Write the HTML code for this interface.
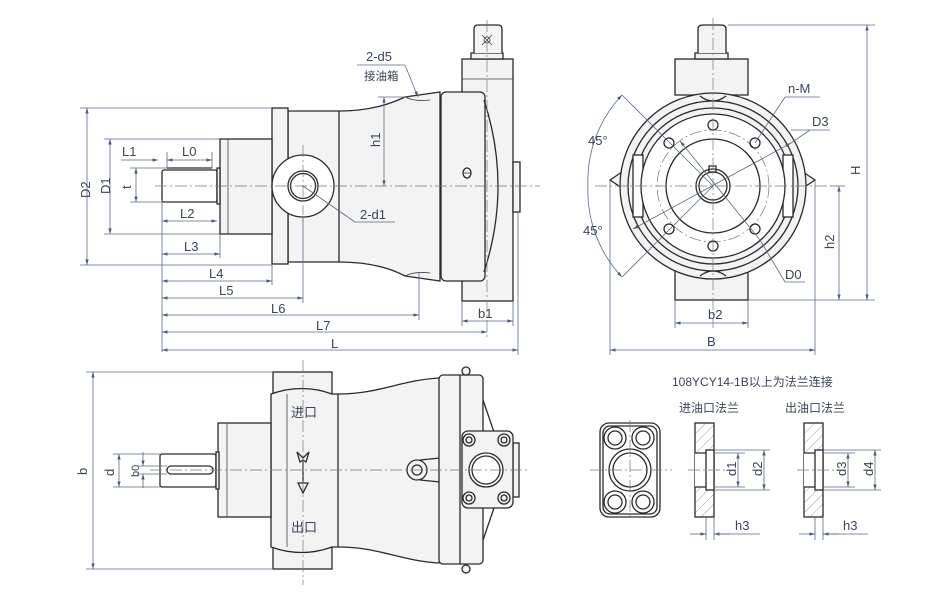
<!DOCTYPE html>
<html><head><meta charset="utf-8"><style>
html,body{margin:0;padding:0;background:#fff;}
svg{display:block}
text{font-family:"Liberation Sans","Noto Sans CJK SC",sans-serif;fill:#3a4358;font-size:13px}
.o{stroke:#2a2a2a;stroke-width:1.3;fill:none}
.f{stroke:#2a2a2a;stroke-width:1.3;fill:#f3f3f3}
.w{stroke:#2a2a2a;stroke-width:1.3;fill:#fff}
.t{stroke:#444;stroke-width:0.8;fill:none}
.d{stroke:#5a6a88;stroke-width:0.8;fill:none}
.c{stroke:#777;stroke-width:0.7;fill:none;stroke-dasharray:12 3 2 3}
.h{stroke:#777;stroke-width:0.7}
</style></head><body>
<svg width="946" height="602" viewBox="0 0 946 602" xmlns="http://www.w3.org/2000/svg">
<defs>
<marker id="a" viewBox="0 0 10 10" refX="10" refY="5" markerWidth="7" markerHeight="7" orient="auto-start-reverse"><path d="M0,2 L10,5 L0,8z" fill="#4a5a78"/></marker>
<pattern id="hp" width="7" height="7" patternUnits="userSpaceOnUse" patternTransform="rotate(45)"><line x1="0" y1="0" x2="0" y2="7" class="h"/></pattern>
</defs>

<!-- ===== TOP-LEFT VIEW ===== -->
<rect x="462" y="59" width="51" height="242" class="f"/>
<line x1="462" y1="79" x2="513" y2="79" class="t"/>
<rect x="471" y="53" width="32" height="6" class="f"/>
<path d="M474,53 V29 Q474,25 478,25 H498 Q502,25 502,29 V53" class="f"/>
<path d="M482,35 L492,45 M492,35 L482,45" class="t"/><circle cx="487" cy="40" r="3" class="t"/>
<path d="M288,111 H339 C370,111 390,104 405,97 L440,92 V281 L405,276 C390,268 370,262 339,262 H288 Z" class="f"/>
<path d="M405,97 Q415,102 430,100" class="t"/><path d="M405,276 Q415,271 430,273" class="t"/>
<line x1="339" y1="111" x2="339" y2="262" class="o"/>
<rect x="441" y="92" width="44" height="189" rx="5" class="f"/>
<path d="M484,100 Q512,186 484,272" class="o"/>
<rect x="513" y="162" width="7" height="50" class="f"/>
<ellipse cx="467" cy="173" rx="4" ry="5" class="o"/><line x1="463" y1="173" x2="471" y2="173" class="t"/>
<rect x="272" y="108" width="16" height="156" class="f"/>
<rect x="220" y="139" width="52" height="95" class="f"/>
<line x1="228" y1="139" x2="228" y2="234" class="t"/>
<rect x="162" y="170" width="55" height="32" rx="2" class="w"/>
<rect x="217" y="168" width="3" height="36" class="f"/>
<line x1="167" y1="168" x2="212" y2="168" class="o"/>
<circle cx="303" cy="186" r="31" class="w"/>
<circle cx="303" cy="186" r="15" class="o"/><circle cx="303" cy="186" r="12.5" class="o"/>
<line x1="303" y1="145" x2="303" y2="215" class="c"/>
<line x1="155" y1="186" x2="540" y2="186" class="c"/>
<line x1="487" y1="20" x2="487" y2="340" class="c"/>

<g class="d">
<line x1="80" y1="108" x2="272" y2="108"/><line x1="80" y1="265" x2="272" y2="265"/>
<line x1="87" y1="108" x2="87" y2="265" marker-start="url(#a)" marker-end="url(#a)"/>
<line x1="104" y1="139" x2="220" y2="139"/><line x1="104" y1="234" x2="220" y2="234"/>
<line x1="110" y1="139" x2="110" y2="234" marker-start="url(#a)" marker-end="url(#a)"/>
<line x1="130" y1="168" x2="167" y2="168"/><line x1="130" y1="202" x2="162" y2="202"/>
<line x1="136" y1="168" x2="136" y2="202" marker-start="url(#a)" marker-end="url(#a)"/>
<line x1="121" y1="160" x2="158" y2="160" marker-end="url(#a)"/>
<line x1="167" y1="160" x2="212" y2="160" marker-start="url(#a)" marker-end="url(#a)"/>
<line x1="162" y1="200" x2="162" y2="352"/><line x1="167" y1="152" x2="167" y2="168"/><line x1="212" y1="152" x2="212" y2="168"/>
<line x1="162" y1="221" x2="217" y2="221" marker-start="url(#a)" marker-end="url(#a)"/>
<line x1="162" y1="254" x2="220" y2="254" marker-start="url(#a)" marker-end="url(#a)"/>
<line x1="220" y1="234" x2="220" y2="258"/>
<line x1="162" y1="281" x2="272" y2="281" marker-start="url(#a)" marker-end="url(#a)"/>
<line x1="272" y1="264" x2="272" y2="285"/>
<line x1="162" y1="298" x2="303" y2="298" marker-start="url(#a)" marker-end="url(#a)"/>
<line x1="303" y1="217" x2="303" y2="303"/>
<line x1="162" y1="315" x2="419" y2="315" marker-start="url(#a)" marker-end="url(#a)"/>
<line x1="419" y1="272" x2="419" y2="320"/>
<line x1="162" y1="332" x2="487" y2="332" marker-start="url(#a)" marker-end="url(#a)"/>
<line x1="162" y1="350" x2="518" y2="350" marker-start="url(#a)" marker-end="url(#a)"/>
<line x1="518" y1="212" x2="518" y2="355"/>
<line x1="462" y1="301" x2="462" y2="326"/><line x1="513" y1="301" x2="513" y2="326"/>
<line x1="462" y1="321" x2="513" y2="321" marker-start="url(#a)" marker-end="url(#a)"/>
<line x1="378" y1="97" x2="410" y2="97"/>
<line x1="384" y1="97" x2="384" y2="186" marker-start="url(#a)" marker-end="url(#a)"/>
<line x1="357" y1="65" x2="405" y2="65"/><line x1="405" y1="65" x2="418" y2="97" marker-end="url(#a)"/>
<line x1="303" y1="186" x2="355" y2="222"/><line x1="355" y1="222" x2="395" y2="222"/>
</g>
<text x="70" y="192" transform="rotate(-90 83 185)">D2</text>
<text x="96" y="192" transform="rotate(-90 104 186)">D1</text>
<text x="124" y="190" transform="rotate(-90 127 186)">t</text>
<text x="122" y="156">L1</text><text x="182" y="156">L0</text>
<text x="180" y="218">L2</text><text x="184" y="251">L3</text>
<text x="209" y="278">L4</text><text x="219" y="295">L5</text>
<text x="271" y="313">L6</text><text x="316" y="330">L7</text>
<text x="331" y="348">L</text><text x="478" y="318">b1</text>
<text x="371" y="146" transform="rotate(-90 376 142)">h1</text>
<text x="366" y="61">2-d5</text><text x="364" y="80" style="font-size:11.5px">接油箱</text>
<text x="360" y="219">2-d1</text>

<!-- ===== RIGHT VIEW ===== -->
<rect x="675" y="59" width="73" height="36" class="f"/>
<rect x="695" y="53" width="33" height="6" class="f"/>
<path d="M698,53 V29 Q698,25 703,25 H721 Q726,25 726,29 V53" class="f"/>
<rect x="675" y="270" width="73" height="30" class="f"/>
<path d="M622,172 L610,180 L622,188 Z" class="f"/><path d="M803,172 L815,180 L803,188 Z" class="f"/>
<circle cx="713" cy="186" r="93" class="f"/>
<circle cx="713" cy="186" r="85" class="o"/>
<circle cx="713" cy="186" r="78" class="o"/>
<rect x="633" y="155" width="10" height="62" class="w"/><rect x="783" y="155" width="10" height="62" class="w"/>
<circle cx="713" cy="186" r="72" class="w"/>
<circle cx="713" cy="186" r="56" class="c"/>
<circle cx="713" cy="186" r="47" class="o"/>
<circle cx="713" cy="186" r="17" class="o"/><circle cx="713" cy="186" r="14" class="o"/>
<rect x="709" y="166" width="7" height="6" class="o"/>
<path d="M700,96 Q713,106 726,96" class="o"/><path d="M700,276 Q713,266 726,276" class="o"/>
<g class="o"><circle cx="713" cy="125" r="5"/><circle cx="713" cy="246" r="5"/><circle cx="669" cy="143" r="5"/><circle cx="755" cy="143" r="5"/><circle cx="669" cy="229" r="5"/><circle cx="755" cy="229" r="5"/></g>
<line x1="713" y1="18" x2="713" y2="328" class="c"/>
<line x1="595" y1="186" x2="830" y2="186" class="c"/>
<g class="d">
<line x1="622" y1="95" x2="713" y2="186"/><line x1="622" y1="277" x2="713" y2="186"/>
<path d="M622,95 A125,125 0 0 0 588,186" marker-start="url(#a)"/>
<path d="M588,186 A125,125 0 0 0 622,277" marker-end="url(#a)"/>
<line x1="728" y1="25" x2="875" y2="25"/><line x1="748" y1="300" x2="875" y2="300"/>
<line x1="867" y1="25" x2="867" y2="300" marker-start="url(#a)" marker-end="url(#a)"/>
<line x1="830" y1="186" x2="845" y2="186"/>
<line x1="839" y1="186" x2="839" y2="300" marker-start="url(#a)" marker-end="url(#a)"/>
<line x1="675" y1="300" x2="675" y2="328"/><line x1="748" y1="300" x2="748" y2="328"/>
<line x1="675" y1="323" x2="748" y2="323" marker-start="url(#a)" marker-end="url(#a)"/>
<line x1="610" y1="180" x2="610" y2="355"/><line x1="815" y1="180" x2="815" y2="355"/>
<line x1="610" y1="350" x2="815" y2="350" marker-start="url(#a)" marker-end="url(#a)"/>
<line x1="755" y1="143" x2="785" y2="97"/><line x1="785" y1="97" x2="820" y2="97"/>
<line x1="633" y1="229" x2="791" y2="143" marker-start="url(#a)" marker-end="url(#a)"/><line x1="791" y1="130" x2="830" y2="130"/><line x1="791" y1="143" x2="810" y2="130"/>
<line x1="680" y1="141" x2="760" y2="240" marker-start="url(#a)"/><line x1="760" y1="240" x2="785" y2="282"/><line x1="785" y1="282" x2="805" y2="282"/>
</g>
<text x="788" y="93">n-M</text><text x="812" y="126">D3</text><text x="785" y="279">D0</text>
<text x="588" y="145">45°</text><text x="583" y="235">45°</text>
<text x="708" y="319">b2</text><text x="707" y="346">B</text>
<text x="851" y="174" transform="rotate(-90 856 170)">H</text>
<text x="825" y="248" transform="rotate(-90 830 244)">h2</text>

<!-- ===== BOTTOM-LEFT VIEW ===== -->
<rect x="273" y="372" width="59" height="25" class="f"/>
<rect x="273" y="545" width="59" height="24" class="f"/>
<path d="M271,394 Q302,383 332,394 L338,394 C380,394 400,380 440,378 V563 C400,561 380,547 338,547 H332 Q302,558 271,547 Z" class="f"/>
<line x1="287" y1="394" x2="287" y2="547" class="t"/>
<line x1="338" y1="394" x2="338" y2="547" class="o"/>
<path d="M440,458 L420,460 M440,482 L420,480" class="o"/>
<circle cx="417" cy="470" r="10" class="f"/>
<circle cx="417" cy="470" r="5" class="o"/>
<rect x="439" y="375" width="44" height="189" rx="4" class="f"/>
<line x1="460" y1="375" x2="460" y2="564" class="o"/>
<circle cx="466" cy="371" r="4" class="f"/><circle cx="466" cy="569" r="4" class="f"/>
<path d="M483,400 L494,432 M494,508 L483,540" class="o"/>
<rect x="513" y="443" width="6" height="54" class="f"/>
<rect x="462" y="431" width="51" height="77" rx="6" class="f"/>
<g class="o"><circle cx="469" cy="440" r="6"/><circle cx="504" cy="440" r="6"/><circle cx="469" cy="498" r="6"/><circle cx="504" cy="498" r="6"/>
<circle cx="469" cy="440" r="3"/><circle cx="504" cy="440" r="3"/><circle cx="469" cy="498" r="3"/><circle cx="504" cy="498" r="3"/></g>
<circle cx="486" cy="470" r="17" class="w"/><circle cx="486" cy="470" r="14" class="o"/>
<rect x="218" y="423" width="53" height="94" class="f"/>
<line x1="227" y1="423" x2="227" y2="517" class="t"/>
<rect x="160" y="454" width="56" height="33" rx="2" class="w"/>
<rect x="216" y="452" width="3" height="37" class="f"/>
<rect x="167" y="466" width="46" height="8" rx="4" class="o"/>
<path d="M297,452 L303,458 L309,452 L306,462 L303,460 L300,462 Z M303,460 V483 M298,483 L303,493 L308,483 Z" class="o"/>
<text x="291" y="417">进口</text><text x="291" y="532">出口</text>
<line x1="303" y1="360" x2="303" y2="585" class="c"/>
<line x1="150" y1="470" x2="530" y2="470" class="c"/>
<g class="d">
<line x1="86" y1="372" x2="273" y2="372"/><line x1="86" y1="569" x2="273" y2="569"/>
<line x1="93" y1="372" x2="93" y2="569" marker-start="url(#a)" marker-end="url(#a)"/>
<line x1="113" y1="454" x2="160" y2="454"/><line x1="113" y1="487" x2="160" y2="487"/>
<line x1="119" y1="454" x2="119" y2="487" marker-start="url(#a)" marker-end="url(#a)"/>
<line x1="137" y1="466" x2="167" y2="466"/><line x1="137" y1="474" x2="167" y2="474"/>
<line x1="143" y1="452" x2="143" y2="466" marker-end="url(#a)"/><line x1="143" y1="488" x2="143" y2="474" marker-end="url(#a)"/>
</g>
<text x="78" y="474" transform="rotate(-90 83 470)">b</text>
<text x="105" y="475" transform="rotate(-90 110 471)">d</text>
<text x="127" y="475" transform="rotate(-90 134 470)" style="font-size:11px">b0</text>

<!-- ===== FLANGES ===== -->
<text x="672" y="386" style="font-size:12px">108YCY14-1B以上为法兰连接</text>
<text x="679" y="412" style="font-size:12px">进油口法兰</text>
<text x="785" y="412" style="font-size:12px">出油口法兰</text>
<rect x="600" y="423" width="60" height="94" rx="9" class="w"/>
<rect x="603" y="426" width="54" height="88" rx="7" class="o"/>
<g class="o"><circle cx="615" cy="438" r="11"/><circle cx="643" cy="438" r="11"/><circle cx="615" cy="502" r="11"/><circle cx="643" cy="502" r="11"/>
<circle cx="615" cy="438" r="7"/><circle cx="643" cy="438" r="7"/><circle cx="615" cy="502" r="7"/><circle cx="643" cy="502" r="7"/>
<circle cx="630" cy="470" r="21"/><circle cx="630" cy="470" r="17"/></g>
<line x1="590" y1="470" x2="672" y2="470" class="c"/><line x1="630" y1="420" x2="630" y2="520" class="c"/>

<rect x="695" y="423" width="19" height="94" class="o" style="fill:url(#hp)"/>
<rect x="695" y="453" width="19" height="34" style="fill:#fff;stroke:none"/>
<rect x="706" y="450" width="8" height="40" class="w"/>
<path d="M695,453 H706 M695,487 H706" class="o"/>
<rect x="804" y="423" width="19" height="94" class="o" style="fill:url(#hp)"/>
<rect x="804" y="453" width="19" height="34" style="fill:#fff;stroke:none"/>
<rect x="815" y="450" width="8" height="40" class="w"/>
<path d="M804,453 H815 M804,487 H815" class="o"/>
<line x1="688" y1="470" x2="730" y2="470" class="c"/><line x1="797" y1="470" x2="840" y2="470" class="c"/>
<g class="d">
<line x1="714" y1="453" x2="745" y2="453"/><line x1="714" y1="487" x2="745" y2="487"/>
<line x1="738" y1="453" x2="738" y2="487" marker-start="url(#a)" marker-end="url(#a)"/>
<line x1="714" y1="450" x2="770" y2="450"/><line x1="714" y1="490" x2="770" y2="490"/>
<line x1="764" y1="450" x2="764" y2="490" marker-start="url(#a)" marker-end="url(#a)"/>
<line x1="706" y1="517" x2="706" y2="540"/><line x1="714" y1="517" x2="714" y2="540"/>
<line x1="690" y1="534" x2="706" y2="534" marker-end="url(#a)"/><line x1="730" y1="534" x2="714" y2="534" marker-end="url(#a)"/><line x1="714" y1="534" x2="760" y2="534"/>
<line x1="823" y1="453" x2="855" y2="453"/><line x1="823" y1="487" x2="855" y2="487"/>
<line x1="848" y1="453" x2="848" y2="487" marker-start="url(#a)" marker-end="url(#a)"/>
<line x1="823" y1="450" x2="881" y2="450"/><line x1="823" y1="490" x2="881" y2="490"/>
<line x1="875" y1="450" x2="875" y2="490" marker-start="url(#a)" marker-end="url(#a)"/>
<line x1="815" y1="517" x2="815" y2="540"/><line x1="823" y1="517" x2="823" y2="540"/>
<line x1="799" y1="534" x2="815" y2="534" marker-end="url(#a)"/><line x1="839" y1="534" x2="823" y2="534" marker-end="url(#a)"/><line x1="823" y1="534" x2="868" y2="534"/>
</g>
<text x="725" y="475" transform="rotate(-90 731 470)">d1</text>
<text x="751" y="475" transform="rotate(-90 757 470)">d2</text>
<text x="835" y="475" transform="rotate(-90 841 470)">d3</text>
<text x="862" y="475" transform="rotate(-90 868 470)">d4</text>
<text x="735" y="530">h3</text><text x="843" y="530">h3</text>
</svg>
</body></html>
